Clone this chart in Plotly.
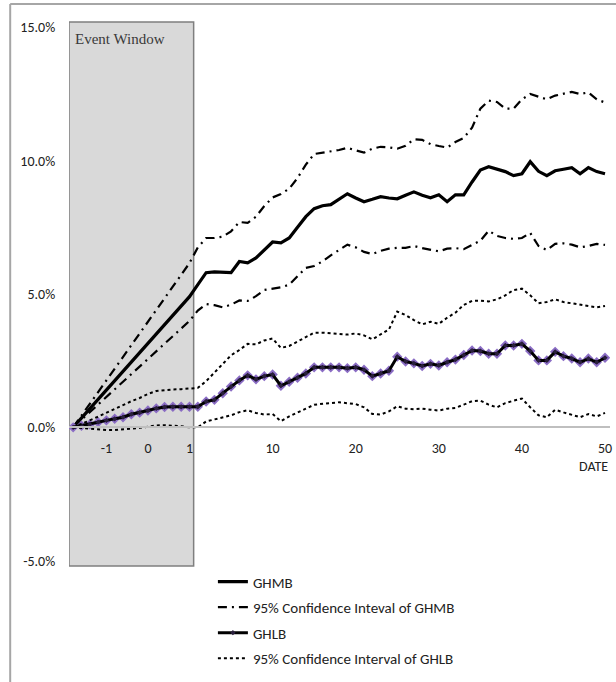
import plotly.graph_objects as go

# ---------------- data (cumulative abnormal returns, %) ----------------
idx = list(range(65))  # category positions along the DATE axis

ghmb = [0, 0.35, 0.7, 1.05, 1.4, 1.75, 2.1, 2.45, 2.8, 3.15,
        3.5, 3.85, 4.2, 4.55, 4.9, 5.35, 5.8, 5.83, 5.8, 5.8,
        6.22, 6.17, 6.35, 6.65, 6.95, 6.92, 7.1, 7.5, 7.9, 8.2,
        8.31, 8.35, 8.55, 8.76, 8.6, 8.46, 8.55, 8.65, 8.6, 8.57,
        8.7, 8.83, 8.7, 8.61, 8.72, 8.46, 8.72, 8.72, 9.2, 9.65,
        9.77, 9.68, 9.59, 9.44, 9.51, 9.96, 9.6, 9.44, 9.62, 9.68,
        9.74, 9.51, 9.74, 9.59, 9.51]

ghmb_upper = [0, 0.44, 0.88, 1.32, 1.76, 2.2, 2.64, 3.08, 3.52, 3.96,
              4.4, 4.84, 5.28, 5.72, 6.16, 6.75, 7.1, 7.1, 7.15, 7.35,
              7.7, 7.67, 7.9, 8.3, 8.62, 8.75, 8.95, 9.35, 9.85, 10.25,
              10.3, 10.35, 10.4, 10.48, 10.38, 10.3, 10.45, 10.52, 10.5, 10.45,
              10.56, 10.8, 10.78, 10.62, 10.55, 10.49, 10.7, 10.85, 11.24, 11.95,
              12.25, 12.2, 11.95, 11.95, 12.3, 12.5, 12.4, 12.3, 12.44, 12.5,
              12.58, 12.5, 12.56, 12.3, 12.18]

ghmb_lower = [0, 0.285, 0.57, 0.855, 1.14, 1.425, 1.71, 1.995, 2.28, 2.565,
              2.85, 3.135, 3.42, 3.705, 3.99, 4.38, 4.62, 4.58, 4.5, 4.6,
              4.76, 4.74, 4.92, 5.15, 5.2, 5.25, 5.35, 5.65, 5.98, 6.05,
              6.22, 6.45, 6.65, 6.85, 6.75, 6.58, 6.5, 6.62, 6.7, 6.73,
              6.73, 6.8, 6.72, 6.65, 6.6, 6.7, 6.72, 6.68, 6.85, 7.0,
              7.37, 7.18, 7.1, 7.07, 7.1, 7.29, 6.8, 6.65, 6.88, 6.9,
              6.85, 6.75, 6.8, 6.88, 6.84]

ghlb = [0, 0.06, 0.11, 0.19, 0.26, 0.32, 0.38, 0.49, 0.55, 0.63,
        0.71, 0.76, 0.77, 0.77, 0.77, 0.77, 0.97, 1.03, 1.28, 1.53,
        1.76, 1.95, 1.8, 1.92, 1.98, 1.56, 1.71, 1.86, 2.02, 2.25,
        2.25, 2.25, 2.25, 2.22, 2.25, 2.16, 1.92, 2.02, 2.12, 2.65,
        2.47, 2.4, 2.3, 2.38, 2.32, 2.44, 2.54, 2.71, 2.88, 2.86,
        2.76, 2.76, 3.07, 3.07, 3.13, 2.86, 2.51, 2.51, 2.83, 2.67,
        2.58, 2.44, 2.58, 2.44, 2.61]

ghlb_upper = [0, 0.12, 0.26, 0.4, 0.55, 0.7, 0.85, 0.98, 1.1, 1.25,
              1.36, 1.4, 1.42, 1.43, 1.45, 1.48, 1.73, 2.05, 2.38, 2.7,
              2.9, 3.13, 3.11, 3.26, 3.33, 2.98, 3.05, 3.21, 3.36, 3.55,
              3.55, 3.52, 3.5, 3.48, 3.52, 3.45, 3.3, 3.48, 3.67, 4.34,
              4.21, 4.02, 3.86, 3.96, 3.88, 4.11, 4.3, 4.59, 4.74, 4.75,
              4.72, 4.8, 4.95, 5.15, 5.2, 4.95, 4.65, 4.7, 4.8, 4.7,
              4.65, 4.6, 4.55, 4.5, 4.55]

ghlb_lower = [0, -0.03, -0.06, -0.08, -0.1, -0.1, -0.08, -0.06, -0.02, 0.02,
              0.07, 0.08, 0.07, 0.04, 0.0, 0.0, 0.22, 0.3, 0.36, 0.45,
              0.57, 0.64, 0.54, 0.48, 0.5, 0.23, 0.41, 0.54, 0.7, 0.85,
              0.87, 0.91, 0.94, 0.91, 0.87, 0.75, 0.5, 0.48, 0.6, 0.79,
              0.7, 0.68, 0.7, 0.66, 0.63, 0.7, 0.73, 0.85, 0.98, 1.0,
              0.85, 0.75, 0.91, 1.0, 1.08, 0.75, 0.45, 0.38, 0.66, 0.56,
              0.48, 0.38, 0.5, 0.41, 0.54]

x_tick_pos = [4, 9, 14, 24, 34, 44, 54, 64]
x_tick_labels = ["-1", "0", "1", "10", "20", "30", "40", "50"]
y_tick_vals = [-5, 0, 5, 10, 15]
y_tick_labels = ["-5.0%", "0.0%", "5.0%", "10.0%", "15.0%"]
event_window = [-0.5, 14.5]

# ---------------- figure ----------------
SANS = "Carlito, Liberation Sans Narrow, Roboto, sans-serif"
DASHDOT = "9px,5px,2px,5px"
fig = go.Figure()

fig.add_trace(go.Scatter(x=idx, y=ghmb, mode="lines", name="GHMB",
                         legendgroup="a",
                         line=dict(color="black", width=3.2)))
fig.add_trace(go.Scatter(x=idx, y=ghmb_upper, mode="lines",
                         name="95% Confidence Inteval of GHMB", legendgroup="b",
                         line=dict(color="black", width=2.2, dash=DASHDOT)))
fig.add_trace(go.Scatter(x=idx, y=ghmb_lower, mode="lines", showlegend=False,
                         legendgroup="b",
                         line=dict(color="black", width=2.2, dash=DASHDOT)))
fig.add_trace(go.Scatter(x=idx, y=ghlb, mode="markers", showlegend=False,
                         legendgroup="c",
                         marker=dict(symbol="diamond", size=8, color="#8a6cc4")))
fig.add_trace(go.Scatter(x=idx, y=ghlb, mode="lines+markers", name="GHLB",
                         legendgroup="c",
                         line=dict(color="black", width=3),
                         marker=dict(symbol="diamond", size=4, color="#2a1f3d")))
fig.add_trace(go.Scatter(x=idx, y=ghlb_upper, mode="lines",
                         name="95% Confidence Interval of GHLB", legendgroup="d",
                         line=dict(color="black", width=2, dash="dot")))
fig.add_trace(go.Scatter(x=idx, y=ghlb_lower, mode="lines", showlegend=False,
                         legendgroup="d",
                         line=dict(color="black", width=2, dash="dot")))

shapes = [
    dict(type="rect", xref="x", yref="paper", x0=event_window[0], x1=event_window[1],
         y0=0, y1=1, fillcolor="#d9d9d9", line=dict(color="#7f7f7f", width=1.5),
         layer="below"),
    # outer frame (left and top)
    dict(type="line", xref="paper", yref="paper", x0=-0.1087, x1=1.03,
         y0=1.0331, y1=1.0331, line=dict(color="#a6a6a6", width=2)),
    dict(type="line", xref="paper", yref="paper", x0=-0.1087, x1=-0.1087,
         y0=1.0331, y1=-0.25, line=dict(color="#a6a6a6", width=2)),
]

fig.update_layout(
    width=616, height=682,
    margin=dict(l=69, r=4, t=22, b=116),
    paper_bgcolor="white", plot_bgcolor="rgba(0,0,0,0)",
    shapes=shapes,
    showlegend=True,
    legend=dict(x=0.266, y=0.001, xanchor="left", yanchor="top",
                font=dict(family=SANS, size=15, color="#222"),
                traceorder="grouped", tracegroupgap=3,
                bgcolor="rgba(0,0,0,0)"),
    annotations=[
        dict(text="Event Window", xref="x", yref="paper", x=0.0, y=0.988,
             xanchor="left", yanchor="top", showarrow=False,
             font=dict(family="Liberation Serif, DejaVu Serif, serif", size=15, color="#3a3a3a")),
        dict(text="DATE", xref="paper", yref="paper", x=1.0, y=0.182,
             xanchor="right", yanchor="middle", showarrow=False,
             font=dict(family=SANS, size=14, color="#222")),
    ],
    xaxis=dict(range=[-0.5, 64.6], tickmode="array", tickvals=x_tick_pos,
               ticktext=x_tick_labels, showgrid=False, zeroline=False,
               anchor="free", position=5.2 / 20.4,
               showline=True, linecolor="#bfbfbf", linewidth=1.5,
               ticks="outside", ticklen=8, tickcolor="rgba(0,0,0,0)",
               tickfont=dict(family=SANS, size=14, color="#222")),
    yaxis=dict(range=[-5.2, 15.2], tickmode="array", tickvals=y_tick_vals,
               ticktext=y_tick_labels, showgrid=False, zeroline=False,
               showline=False,
               ticks="outside", ticklen=10, tickcolor="rgba(0,0,0,0)",
               tickfont=dict(family=SANS, size=14, color="#222")),
)

fig.write_html("out.html", config={"displayModeBar": False},
               post_script="document.body.style.margin='0';document.body.style.overflow='hidden';")
